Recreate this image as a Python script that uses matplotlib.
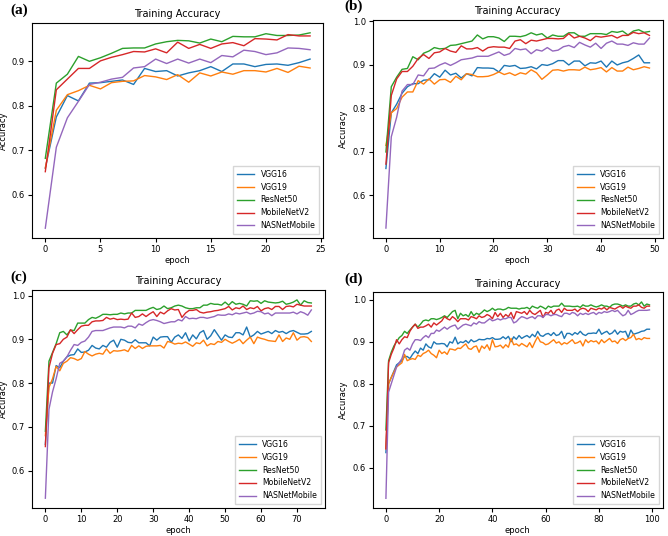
import matplotlib
matplotlib.use("Agg")
import matplotlib.pyplot as plt

models = ["VGG16", "VGG19", "ResNet50", "MobileNetV2", "NASNetMobile"]
colors = ["#1f77b4", "#ff7f0e", "#2ca02c", "#d62728", "#9467bd"]
panel_labels = ["(a)", "(b)", "(c)", "(d)"]

# panel (a): 25 epochs
a_vgg16 = [0.660, 0.775, 0.823, 0.811, 0.851, 0.852, 0.855, 0.858, 0.848, 0.884,
           0.877, 0.879, 0.867, 0.874, 0.879, 0.888, 0.877, 0.894, 0.894, 0.888,
           0.893, 0.894, 0.891, 0.897, 0.905]
a_vgg19 = [0.660, 0.790, 0.825, 0.834, 0.846, 0.838, 0.852, 0.855, 0.856, 0.868,
           0.865, 0.859, 0.870, 0.853, 0.874, 0.867, 0.876, 0.871, 0.879, 0.879,
           0.876, 0.884, 0.875, 0.889, 0.885]
a_resnet = [0.682, 0.851, 0.871, 0.911, 0.900, 0.908, 0.918, 0.929, 0.930, 0.930,
            0.939, 0.944, 0.947, 0.946, 0.941, 0.950, 0.944, 0.956, 0.955, 0.955,
            0.962, 0.958, 0.958, 0.959, 0.964]
a_mobile = [0.652, 0.836, 0.860, 0.884, 0.884, 0.901, 0.909, 0.915, 0.922, 0.921,
            0.928, 0.919, 0.943, 0.929, 0.938, 0.929, 0.939, 0.942, 0.935, 0.951,
            0.950, 0.948, 0.960, 0.957, 0.957]
a_nasnet = [0.525, 0.707, 0.773, 0.810, 0.848, 0.853, 0.860, 0.864, 0.885, 0.888,
            0.905, 0.895, 0.905, 0.896, 0.905, 0.897, 0.913, 0.910, 0.925, 0.922,
            0.915, 0.919, 0.930, 0.929, 0.926]

# panel (b): 50 epochs
b_vgg16 = [0.662, 0.790, 0.810, 0.835, 0.850, 0.857, 0.857, 0.865, 0.866, 0.880,
           0.872, 0.888, 0.877, 0.881, 0.870, 0.880, 0.875, 0.894, 0.893, 0.893,
           0.892, 0.884, 0.899, 0.897, 0.899, 0.892, 0.893, 0.896, 0.891, 0.901,
           0.899, 0.903, 0.910, 0.910, 0.900, 0.909, 0.909, 0.898, 0.905, 0.904,
           0.909, 0.895, 0.909, 0.900, 0.905, 0.908, 0.915, 0.923, 0.905, 0.905]
b_vgg19 = [0.715, 0.790, 0.800, 0.826, 0.838, 0.838, 0.864, 0.856, 0.868, 0.856,
           0.866, 0.867, 0.860, 0.874, 0.866, 0.880, 0.878, 0.873, 0.873, 0.874,
           0.878, 0.884, 0.878, 0.882, 0.876, 0.882, 0.879, 0.889, 0.882, 0.867,
           0.877, 0.888, 0.889, 0.886, 0.889, 0.889, 0.888, 0.895, 0.889, 0.891,
           0.894, 0.884, 0.894, 0.886, 0.886, 0.895, 0.889, 0.892, 0.896, 0.893]
b_resnet = [0.700, 0.850, 0.872, 0.890, 0.892, 0.919, 0.912, 0.927, 0.932, 0.940,
            0.937, 0.938, 0.945, 0.946, 0.949, 0.952, 0.955, 0.969, 0.960, 0.965,
            0.965, 0.962, 0.954, 0.966, 0.966, 0.965, 0.968, 0.974, 0.969, 0.972,
            0.962, 0.969, 0.966, 0.966, 0.974, 0.974, 0.966, 0.966, 0.972, 0.972,
            0.972, 0.970, 0.977, 0.975, 0.978, 0.969, 0.978, 0.981, 0.975, 0.977]
b_mobile = [0.672, 0.830, 0.868, 0.885, 0.885, 0.897, 0.915, 0.924, 0.915, 0.928,
            0.930, 0.938, 0.932, 0.929, 0.944, 0.937, 0.937, 0.940, 0.932, 0.940,
            0.942, 0.941, 0.941, 0.938, 0.955, 0.958, 0.949, 0.957, 0.955, 0.958,
            0.961, 0.961, 0.960, 0.961, 0.972, 0.962, 0.966, 0.962, 0.956, 0.966,
            0.964, 0.966, 0.968, 0.962, 0.968, 0.968, 0.975, 0.972, 0.974, 0.968]
b_nasnet = [0.525, 0.735, 0.780, 0.840, 0.855, 0.855, 0.877, 0.875, 0.892, 0.893,
            0.900, 0.905, 0.899, 0.905, 0.912, 0.914, 0.916, 0.920, 0.920, 0.920,
            0.925, 0.930, 0.922, 0.926, 0.938, 0.935, 0.937, 0.926, 0.935, 0.932,
            0.940, 0.932, 0.934, 0.942, 0.945, 0.940, 0.952, 0.946, 0.941, 0.950,
            0.938, 0.950, 0.955, 0.948, 0.948, 0.945, 0.951, 0.948, 0.948, 0.962]

# panel (c): 75 epochs
c_vgg16 = [0.660, 0.800, 0.800, 0.840, 0.835, 0.850, 0.860, 0.864, 0.865, 0.878,
           0.870, 0.871, 0.875, 0.886, 0.880, 0.878, 0.886, 0.882, 0.893, 0.898,
           0.882, 0.900, 0.898, 0.893, 0.892, 0.899, 0.892, 0.892, 0.892, 0.885,
           0.905, 0.898, 0.905, 0.906, 0.906, 0.893, 0.905, 0.910, 0.902, 0.915,
           0.896, 0.910, 0.901, 0.915, 0.920, 0.900, 0.908, 0.922, 0.910, 0.898,
           0.910, 0.905, 0.904, 0.915, 0.915, 0.910, 0.928, 0.905, 0.910, 0.918,
           0.912, 0.915, 0.918, 0.913, 0.920, 0.916, 0.918, 0.913, 0.918, 0.920,
           0.916, 0.912, 0.912, 0.913, 0.918]
c_vgg19 = [0.680, 0.790, 0.810, 0.838, 0.828, 0.845, 0.850, 0.858, 0.856, 0.852,
           0.856, 0.872, 0.866, 0.862, 0.866, 0.868, 0.866, 0.878, 0.868, 0.874,
           0.873, 0.874, 0.876, 0.872, 0.886, 0.879, 0.885, 0.879, 0.884, 0.885,
           0.885, 0.885, 0.886, 0.880, 0.895, 0.893, 0.889, 0.891, 0.890, 0.894,
           0.889, 0.884, 0.892, 0.890, 0.898, 0.885, 0.890, 0.888, 0.895, 0.893,
           0.900, 0.895, 0.891, 0.895, 0.900, 0.890, 0.898, 0.905, 0.890, 0.905,
           0.902, 0.900, 0.897, 0.896, 0.895, 0.910, 0.895, 0.903, 0.900, 0.915,
           0.898, 0.905, 0.906, 0.904, 0.895]
c_resnet = [0.690, 0.850, 0.870, 0.890, 0.915, 0.918, 0.910, 0.921, 0.920, 0.937,
            0.937, 0.937, 0.945, 0.950, 0.948, 0.952, 0.957, 0.957, 0.956, 0.957,
            0.957, 0.960, 0.958, 0.960, 0.960, 0.966, 0.966, 0.966, 0.966, 0.970,
            0.973, 0.968, 0.970, 0.976, 0.970, 0.972, 0.976, 0.978, 0.976, 0.972,
            0.970, 0.970, 0.972, 0.972, 0.978, 0.978, 0.982, 0.980, 0.980, 0.978,
            0.985, 0.978, 0.986, 0.980, 0.982, 0.980, 0.976, 0.988, 0.987, 0.988,
            0.982, 0.988, 0.985, 0.984, 0.983, 0.984, 0.987, 0.980, 0.982, 0.985,
            0.990, 0.978, 0.988, 0.984, 0.983]
c_mobile = [0.655, 0.835, 0.868, 0.888, 0.890, 0.900, 0.905, 0.922, 0.913, 0.922,
            0.930, 0.932, 0.932, 0.940, 0.942, 0.942, 0.943, 0.950, 0.946, 0.948,
            0.945, 0.946, 0.945, 0.946, 0.960, 0.950, 0.952, 0.958, 0.952, 0.958,
            0.963, 0.952, 0.962, 0.958, 0.965, 0.970, 0.967, 0.968, 0.950, 0.960,
            0.966, 0.966, 0.968, 0.962, 0.960, 0.962, 0.963, 0.965, 0.966, 0.968,
            0.970, 0.975, 0.967, 0.972, 0.970, 0.976, 0.968, 0.972, 0.970, 0.975,
            0.965, 0.970, 0.972, 0.968, 0.975, 0.975, 0.968, 0.975, 0.976, 0.974,
            0.980, 0.978, 0.976, 0.976, 0.976]
c_nasnet = [0.537, 0.740, 0.780, 0.810, 0.845, 0.850, 0.860, 0.875, 0.888, 0.886,
            0.893, 0.896, 0.905, 0.918, 0.920, 0.920, 0.920, 0.923, 0.926, 0.928,
            0.928, 0.928, 0.926, 0.930, 0.930, 0.926, 0.935, 0.932, 0.938, 0.943,
            0.945, 0.943, 0.940, 0.936, 0.938, 0.940, 0.940, 0.945, 0.942, 0.952,
            0.947, 0.948, 0.947, 0.950, 0.950, 0.948, 0.950, 0.952, 0.956, 0.955,
            0.955, 0.958, 0.956, 0.960, 0.958, 0.960, 0.962, 0.958, 0.960, 0.964,
            0.963, 0.958, 0.960, 0.954, 0.960, 0.960, 0.960, 0.960, 0.960, 0.962,
            0.958, 0.963, 0.960, 0.955, 0.967]

# panel (d): 100 epochs
d_vgg16 = [0.636, 0.800, 0.815, 0.830, 0.845, 0.850, 0.855, 0.865, 0.865, 0.860,
           0.870, 0.878, 0.872, 0.885, 0.880, 0.895, 0.888, 0.885, 0.900, 0.895,
           0.895, 0.896, 0.895, 0.888, 0.900, 0.897, 0.911, 0.895, 0.900, 0.898,
           0.903, 0.897, 0.905, 0.900, 0.902, 0.906, 0.905, 0.905, 0.908, 0.907,
           0.910, 0.906, 0.906, 0.907, 0.912, 0.907, 0.913, 0.900, 0.912, 0.906,
           0.915, 0.908, 0.912, 0.915, 0.910, 0.918, 0.912, 0.925, 0.915, 0.913,
           0.918, 0.920, 0.915, 0.922, 0.915, 0.917, 0.925, 0.908, 0.920, 0.920,
           0.916, 0.922, 0.918, 0.925, 0.918, 0.915, 0.920, 0.920, 0.921, 0.920,
           0.930, 0.918, 0.922, 0.925, 0.918, 0.921, 0.928, 0.918, 0.925, 0.923,
           0.925, 0.910, 0.928, 0.918, 0.920, 0.922, 0.925, 0.926, 0.930, 0.930]
d_vgg19 = [0.645, 0.800, 0.815, 0.828, 0.840, 0.845, 0.850, 0.870, 0.855, 0.858,
           0.860, 0.858, 0.868, 0.865, 0.872, 0.875, 0.880, 0.872, 0.868, 0.862,
           0.880, 0.872, 0.876, 0.870, 0.883, 0.882, 0.880, 0.885, 0.884, 0.890,
           0.895, 0.884, 0.882, 0.888, 0.890, 0.875, 0.890, 0.884, 0.893, 0.880,
           0.905, 0.888, 0.889, 0.892, 0.885, 0.893, 0.887, 0.908, 0.893, 0.895,
           0.890, 0.896, 0.892, 0.888, 0.898, 0.886, 0.900, 0.912, 0.900, 0.898,
           0.893, 0.895, 0.900, 0.905, 0.897, 0.900, 0.893, 0.898, 0.895, 0.900,
           0.905, 0.896, 0.898, 0.902, 0.890, 0.905, 0.898, 0.903, 0.900, 0.902,
           0.895, 0.905, 0.898, 0.903, 0.908, 0.900, 0.902, 0.896, 0.905, 0.908,
           0.903, 0.908, 0.910, 0.918, 0.905, 0.908, 0.905, 0.910, 0.908, 0.908]
d_resnet = [0.690, 0.855, 0.875, 0.890, 0.900, 0.910, 0.915, 0.925, 0.920, 0.928,
            0.935, 0.942, 0.935, 0.942, 0.950, 0.952, 0.950, 0.955, 0.955, 0.953,
            0.955, 0.958, 0.962, 0.958, 0.965, 0.972, 0.975, 0.955, 0.968, 0.962,
            0.965, 0.960, 0.972, 0.962, 0.968, 0.965, 0.970, 0.976, 0.972, 0.975,
            0.980, 0.975, 0.978, 0.978, 0.976, 0.978, 0.982, 0.980, 0.980, 0.980,
            0.978, 0.980, 0.980, 0.982, 0.978, 0.985, 0.982, 0.980, 0.985, 0.982,
            0.978, 0.985, 0.982, 0.985, 0.985, 0.985, 0.992, 0.985, 0.985, 0.985,
            0.984, 0.984, 0.985, 0.982, 0.988, 0.985, 0.985, 0.988, 0.985, 0.983,
            0.985, 0.988, 0.985, 0.985, 0.982, 0.988, 0.990, 0.990, 0.988, 0.985,
            0.988, 0.985, 0.985, 0.990, 0.992, 0.988, 0.995, 0.985, 0.990, 0.988]
d_mobile = [0.645, 0.850, 0.870, 0.885, 0.905, 0.895, 0.905, 0.912, 0.910, 0.925,
            0.935, 0.942, 0.932, 0.935, 0.935, 0.938, 0.942, 0.935, 0.945, 0.940,
            0.945, 0.950, 0.960, 0.955, 0.952, 0.960, 0.955, 0.948, 0.955, 0.955,
            0.955, 0.952, 0.960, 0.958, 0.955, 0.962, 0.958, 0.960, 0.965, 0.962,
            0.955, 0.970, 0.960, 0.968, 0.958, 0.965, 0.960, 0.970, 0.955, 0.972,
            0.970, 0.968, 0.972, 0.965, 0.975, 0.968, 0.965, 0.970, 0.975, 0.958,
            0.970, 0.968, 0.975, 0.965, 0.975, 0.978, 0.970, 0.980, 0.975, 0.975,
            0.975, 0.978, 0.972, 0.978, 0.980, 0.978, 0.972, 0.980, 0.978, 0.976,
            0.980, 0.978, 0.982, 0.976, 0.982, 0.980, 0.978, 0.982, 0.985, 0.980,
            0.985, 0.982, 0.980, 0.985, 0.985, 0.988, 0.982, 0.980, 0.985, 0.985]
d_nasnet = [0.527, 0.780, 0.800, 0.820, 0.840, 0.850, 0.860, 0.880, 0.885, 0.880,
            0.895, 0.905, 0.905, 0.903, 0.910, 0.915, 0.910, 0.920, 0.920, 0.928,
            0.925, 0.930, 0.935, 0.930, 0.935, 0.938, 0.940, 0.930, 0.935, 0.940,
            0.942, 0.940, 0.938, 0.945, 0.942, 0.948, 0.945, 0.945, 0.950, 0.955,
            0.950, 0.952, 0.955, 0.952, 0.955, 0.955, 0.958, 0.958, 0.945, 0.948,
            0.955, 0.960, 0.958, 0.955, 0.958, 0.960, 0.955, 0.962, 0.962, 0.958,
            0.965, 0.965, 0.962, 0.965, 0.965, 0.962, 0.960, 0.968, 0.968, 0.965,
            0.970, 0.968, 0.962, 0.968, 0.965, 0.968, 0.965, 0.968, 0.970, 0.965,
            0.970, 0.968, 0.972, 0.970, 0.972, 0.975, 0.972, 0.975, 0.968, 0.962,
            0.965, 0.975, 0.965, 0.968, 0.972, 0.975, 0.975, 0.975, 0.975, 0.976]

panels = [
    [a_vgg16, a_vgg19, a_resnet, a_mobile, a_nasnet],
    [b_vgg16, b_vgg19, b_resnet, b_mobile, b_nasnet],
    [c_vgg16, c_vgg19, c_resnet, c_mobile, c_nasnet],
    [d_vgg16, d_vgg19, d_resnet, d_mobile, d_nasnet],
]

# axes rectangles in figure fraction [left, bottom, width, height]
rects = [
    [0.048, 0.556, 0.436, 0.401],
    [0.558, 0.556, 0.434, 0.407],
    [0.048, 0.052, 0.438, 0.407],
    [0.558, 0.052, 0.434, 0.403],
]
label_dx = [-0.033, -0.042, -0.033, -0.042]

fig = plt.figure(figsize=(6.68, 5.36), dpi=100)

for rect, series, label, dx in zip(rects, panels, panel_labels, label_dx):
    ax = fig.add_axes(rect)
    for name, values, color in zip(models, series, colors):
        ax.plot(range(len(values)), values, color=color, linewidth=1.0, label=name)
    ax.set_title("Training Accuracy", fontsize=7, pad=4)
    ax.set_xlabel("epoch", fontsize=6, labelpad=1.5)
    ax.set_ylabel("Accuracy", fontsize=6, labelpad=3)
    ax.tick_params(labelsize=6, length=3, pad=2)
    ax.legend(loc="lower right", fontsize=5.6, handlelength=2.2, borderpad=0.5,
              labelspacing=0.5, fancybox=False)
    fig.text(rect[0] + dx, rect[1] + rect[3] + 0.012, label, fontsize=11,
             fontweight="bold", family="Liberation Serif", va="bottom")

fig.savefig("out.png", dpi=100)
